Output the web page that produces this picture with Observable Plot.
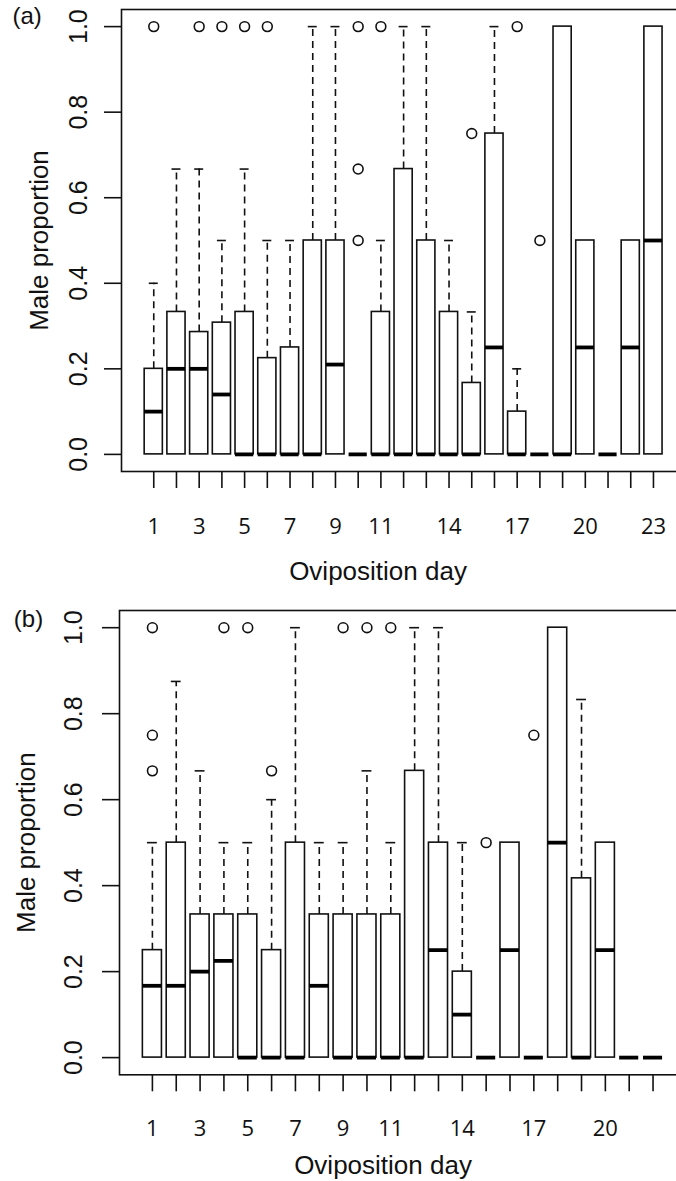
<!DOCTYPE html>
<html><head><meta charset="utf-8">
<script src="https://cdn.jsdelivr.net/npm/d3@7"></script>
<script src="https://cdn.jsdelivr.net/npm/@observablehq/plot@0.6"></script>
<style>
html,body{margin:0;padding:0;background:#fff;overflow:hidden;}
#chart svg{display:block;}
</style></head><body><div id="chart"></div>
<script>
// ---- Panel (a) ----
const daysA   = [1,2,3,4,5,6,7,8,9,10,11,12,13,14,15,16,17,18,19,20,21,22,23];
const q1A     = [0,0,0,0,0,0,0,0,0,0,0,0,0,0,0,0,0,0,0,0,0,0,0];
const medianA = [0.1,0.2,0.2,0.14,0,0,0,0,0.21,0,0,0,0,0,0,0.25,0,0,0,0.25,0,0.25,0.5];
const q3A     = [0.2,0.333,0.286,0.308,0.333,0.225,0.25,0.5,0.5,0,0.333,0.667,0.5,0.333,0.167,0.75,0.1,0,1,0.5,0,0.5,1];
const upperA  = [0.4,0.667,0.667,0.5,0.667,0.5,0.5,1,1,0,0.5,1,1,0.5,0.333,1,0.2,0,1,0.5,0,0.5,1];
const outDaysA = [1,3,4,5,6,10,10,10,11,15,17,18];
const outValsA = [1,1,1,1,1,1,0.667,0.5,1,0.75,1,0.5];
const labelDaysA = [1,3,5,7,9,11,14,17,20,23];

// ---- Panel (b) ----
const daysB   = [1,2,3,4,5,6,7,8,9,10,11,12,13,14,15,16,17,18,19,20,21,22];
const q1B     = [0,0,0,0,0,0,0,0,0,0,0,0,0,0,0,0,0,0,0,0,0,0];
const medianB = [0.167,0.167,0.2,0.225,0,0,0,0.167,0,0,0,0,0.25,0.1,0,0.25,0,0.5,0,0.25,0,0];
const q3B     = [0.25,0.5,0.333,0.333,0.333,0.25,0.5,0.333,0.333,0.333,0.333,0.667,0.5,0.2,0,0.5,0,1,0.417,0.5,0,0];
const upperB  = [0.5,0.875,0.667,0.5,0.5,0.6,1,0.5,0.5,0.667,0.5,1,1,0.5,0,0.5,0,1,0.833,0.5,0,0];
const outDaysB = [1,1,1,4,5,6,9,10,11,15,17];
const outValsB = [1,0.75,0.667,1,1,0.667,1,1,1,0.5,0.75];
const labelDaysB = [1,3,5,7,9,11,14,17,20];

const yTicks = [0,0.2,0.4,0.6,0.8,1.0];
const yDomain = [-0.04, 1.04];
const xTitle = "Oviposition day";
const yTitle = "Male proportion";

function panel(c) {
  const rows = c.days.map((d,i)=>({day:d, q1:c.q1[i], med:c.median[i], q3:c.q3[i], hi:c.upper[i]}));
  const outl = c.oDays.map((d,i)=>({day:d, v:c.oVals[i]}));
  const whisk = rows.filter(r => r.hi > r.q3);
  const n = c.days.length;
  const r0 = c.marginLeft, r1 = c.marginLeft + c.step*(n - 0.2 + 2*c.padOuter);
  const sans = "'Liberation Sans', Arial, Helvetica, sans-serif";
  const sw = 1.6;
  return Plot.plot({
    width: 676, height: c.height,
    marginTop: c.marginTop, marginBottom: c.marginBottom, marginLeft: c.marginLeft, marginRight: -4,
    style: {background: "white", color: "#111", overflow: "hidden", fontFamily: sans},
    x: {type: "band", domain: c.days, range: [r0, r1], paddingInner: 0.2, paddingOuter: c.padOuter, align: 0.5, round: false},
    y: {domain: yDomain},
    marks: [
      Plot.ruleX(whisk, {x: "day", y1: "q3", y2: "hi", stroke: "#111", strokeWidth: sw, strokeDasharray: "7,5"}),
      Plot.tickY(whisk, {x: "day", y: "hi", stroke: "#111", strokeWidth: sw, insetLeft: 4.6, insetRight: 4.6}),
      Plot.barY(rows, {x: "day", y1: "q1", y2: "q3", fill: "white", stroke: "#111", strokeWidth: sw}),
      Plot.tickY(rows, {x: "day", y: "med", stroke: "#000", strokeWidth: 3.8}),
      Plot.dot(outl, {x: "day", y: "v", r: 4.9, stroke: "#111", strokeWidth: sw, fill: "none"}),
      Plot.frame({stroke: "#111", strokeWidth: sw}),
      Plot.axisY({ticks: yTicks, tickSize: 17, tickFormat: () => "", label: null, strokeWidth: sw}),
      Plot.text(yTicks, {frameAnchor: "left", y: d => d, text: d => d3.format(".1f")(d), rotate: -90,
        textAnchor: "middle", lineAnchor: "middle", dx: c.yTickDx, fontSize: 25,
        fontFamily: "'Liberation Sans Narrow', 'Liberation Sans', Arial, sans-serif"}),
      Plot.axisX({ticks: c.days, tickSize: 17, tickFormat: () => "", label: null, strokeWidth: sw}),
      Plot.text(c.labelDays, {x: d => d, frameAnchor: "bottom", text: d => String(d), lineAnchor: "top",
        dy: c.xLabDy, fontSize: 22, fontFamily: "'Open Sans', sans-serif"}),
      Plot.text([xTitle], {frameAnchor: "bottom", lineAnchor: "middle", dx: c.xTitleDx, dy: c.xTitleDy, fontSize: 26}),
      Plot.text([yTitle], {frameAnchor: "left", rotate: -90, textAnchor: "middle", lineAnchor: "middle", dx: c.yTitleDx, fontSize: 26}),
      Plot.text([c.tag], {frameAnchor: "top-left", textAnchor: "start", lineAnchor: "middle", dx: c.tagDx, dy: c.tagDy, fontSize: 24})
    ]
  });
}

const chart = document.getElementById("chart");
chart.appendChild(panel({
  days: daysA, q1: q1A, median: medianA, q3: q3A, upper: upperA, oDays: outDaysA, oVals: outValsA,
  labelDays: labelDaysA, tag: "(a)",
  height: 590, marginTop: 9, marginBottom: 119, marginLeft: 121, step: 22.714, padOuter: 1.02,
  yTickDx: -43, yTitleDx: -81.6, xTitleDx: -23, xTitleDy: 99.7, xLabDy: 47, tagDx: -109, tagDy: 7.3
}));
chart.appendChild(panel({
  days: daysB, q1: q1B, median: medianB, q3: q3B, upper: upperB, oDays: outDaysB, oVals: outValsB,
  labelDays: labelDaysB, tag: "(b)",
  height: 591, marginTop: 20, marginBottom: 106.7, marginLeft: 119, step: 23.84, padOuter: 0.98,
  yTickDx: -45.5, yTitleDx: -92.6, xTitleDx: -17, xTitleDy: 90.4, xLabDy: 45.7, tagDx: -105.7, tagDy: 9.3
}));
</script></body></html>
